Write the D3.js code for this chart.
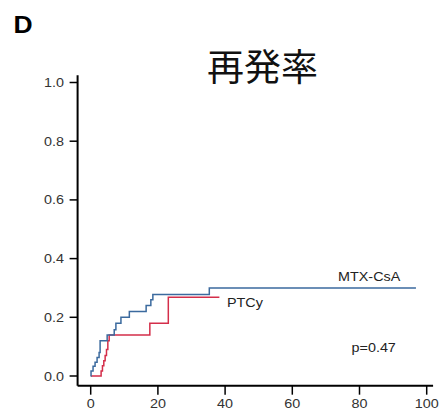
<!DOCTYPE html>
<meta charset="utf-8">
<style>
  body { margin: 0; background: #fff; }
  text { font-family: "Liberation Sans", Arial, sans-serif; }
</style>
<svg width="439" height="411"></svg>
<script src="https://cdn.jsdelivr.net/npm/d3@7"></script>
<script>
// step curves (time, cumulative incidence)
var mtxTime  = [0, 0.1, 0.7, 1.3, 1.9, 2.5, 2.8, 4.9, 7.0, 7.5, 9.0, 11.5, 16.5, 17.9, 18.5, 35.3, 96.8];
var mtxValue = [0, 0.017, 0.033, 0.047, 0.063, 0.08, 0.12, 0.14, 0.158, 0.18, 0.2, 0.22, 0.24, 0.26, 0.278, 0.3, 0.3];
var ptcyTime  = [0, 3.1, 3.5, 3.9, 4.3, 4.7, 5.1, 5.5, 17.6, 23.1, 38.3];
var ptcyValue = [0, 0.017, 0.035, 0.052, 0.07, 0.09, 0.12, 0.14, 0.18, 0.268, 0.268];
var xTicks = [0, 20, 40, 60, 80, 100];
var yTicks = [0, 0.2, 0.4, 0.6, 0.8, 1.0];

var svg = d3.select("svg");
var sx = 1.15; // the source figure is a little stretched sideways

var x = d3.scaleLinear().domain([0, 100]).range([90.7, 426.7]);
var y = d3.scaleLinear().domain([0, 1]).range([376, 82.5]);

function label(txt, px, py, size, anchor, fill, weight) {
  return svg.append("text")
    .attr("transform", "translate(" + px + "," + py + ") scale(" + sx + ",1)")
    .attr("text-anchor", anchor)
    .style("font-size", size + "px")
    .style("font-weight", weight || "normal")
    .attr("fill", fill || "#222")
    .text(txt);
}

// panel letter and title
label("D", 13.5, 33, 23, "start", "#000", "bold");
svg.append("text")
  .attr("x", 262.5).attr("y", 81)
  .attr("text-anchor", "middle")
  .style("font-family", "'Noto Sans CJK JP', sans-serif")
  .style("font-size", "37px")
  .attr("fill", "#111")
  .text("再発率");

// axes frame
svg.append("line")
  .attr("x1", x(-3.9)).attr("x2", x(-3.9))
  .attr("y1", y(1.025)).attr("y2", y(-0.033))
  .attr("stroke", "#000").attr("stroke-width", 2);
svg.append("line")
  .attr("x1", x(-3.9)).attr("x2", x(101.9))
  .attr("y1", y(-0.033)).attr("y2", y(-0.033))
  .attr("stroke", "#000").attr("stroke-width", 2);

// y ticks
yTicks.forEach(function(t) {
  svg.append("line")
    .attr("x1", x(-3.9) - 8).attr("x2", x(-3.9))
    .attr("y1", y(t)).attr("y2", y(t))
    .attr("stroke", "#000").attr("stroke-width", 1.5);
  label(d3.format(".1f")(t), 64, y(t) + 4.5, 12.5, "end", "#333");
});

// x ticks
xTicks.forEach(function(t) {
  svg.append("line")
    .attr("x1", x(t)).attr("x2", x(t))
    .attr("y1", y(-0.033)).attr("y2", y(-0.033) + 9)
    .attr("stroke", "#000").attr("stroke-width", 1.5);
  label(String(t), x(t), 408, 12.5, "middle", "#333");
});

var line = d3.line()
  .x(function(d) { return x(d[0]); })
  .y(function(d) { return y(d[1]); })
  .curve(d3.curveStepAfter);

svg.append("path")
  .datum(d3.zip(ptcyTime, ptcyValue))
  .attr("d", line)
  .attr("fill", "none")
  .attr("stroke", "#d42e4a")
  .attr("stroke-width", 1.5);

svg.append("path")
  .datum(d3.zip(mtxTime, mtxValue))
  .attr("d", line)
  .attr("fill", "none")
  .attr("stroke", "#3b6a9e")
  .attr("stroke-width", 1.5);

// curve labels and p value
label("MTX-CsA", 338, 280.5, 12.5, "start", "#222");
label("PTCy", 227, 306.5, 12.5, "start", "#222");
label("p=0.47", 351.5, 351.5, 12.5, "start", "#222");
</script>
